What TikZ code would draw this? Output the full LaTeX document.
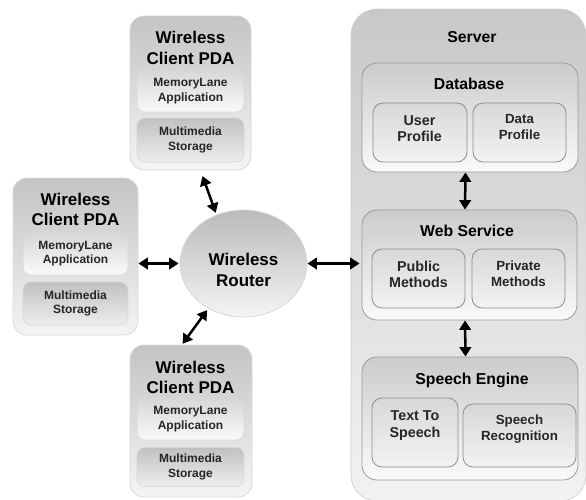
\documentclass[tikz,border=0pt]{standalone}
\usepackage{fontspec}
\setmainfont{Liberation Sans}
\usetikzlibrary{arrows.meta,shapes.geometric}
\definecolor{pdatop}{HTML}{C4C4C4}
\definecolor{pdabot}{HTML}{F4F4F4}
\definecolor{pdaline}{HTML}{D8D8D8}
\definecolor{intop}{HTML}{D6D6D6}
\definecolor{inbot}{HTML}{FAFAFA}
\definecolor{srvtop}{HTML}{C8C8C8}
\definecolor{srvbot}{HTML}{F2F2F2}
\definecolor{subline}{HTML}{9A9A9A}
\definecolor{leafline}{HTML}{8C8C8C}
\begin{document}
\begin{tikzpicture}[x=1pt,y=-1pt,
  pdabox/.style={draw=pdaline,line width=0.8pt,rounded corners=14pt,top color=pdatop,bottom color=pdabot,inner sep=0pt},
  pdain/.style={draw=pdaline,line width=0.6pt,rounded corners=8pt,top color=intop,bottom color=inbot,inner sep=0pt,minimum width=107pt},
  pdain2/.style={draw=pdaline,line width=0.6pt,rounded corners=8pt,top color=intop!90!black,bottom color=inbot!95!black,inner sep=0pt,minimum width=107pt},
  srvbox/.style={draw=srvtop!90!white,line width=0.6pt,rounded corners=26pt,top color=srvtop,bottom color=srvbot,inner sep=0pt},
  subbox/.style={draw=subline,line width=0.8pt,rounded corners=15pt,top color=intop!95!black,bottom color=inbot,inner sep=0pt},
  leafbox/.style={draw=leafline,line width=0.8pt,rounded corners=10pt,top color=intop!95!white,bottom color=inbot!97!black,inner sep=0pt},
  ttl/.style={font=\bfseries\fontsize{17}{20.5}\selectfont,align=center,inner sep=0pt},
  small/.style={font=\bfseries\fontsize{12}{14.5}\selectfont,align=center,inner sep=0pt,text=black!85},
  head/.style={font=\bfseries\fontsize{15.8}{18}\selectfont,inner sep=0pt,anchor=base},
  leaf/.style={font=\bfseries\fontsize{14.3}{16.5}\selectfont,align=center,inner sep=0pt,text=black!85},
  leafs/.style={font=\bfseries\fontsize{13.3}{15.5}\selectfont,align=center,inner sep=0pt,text=black!85},
  arr/.style={line width=2.5pt,{Triangle[length=9.5pt,width=11.5pt]}-{Triangle[length=9.5pt,width=11.5pt]}}
]
\useasboundingbox (0,0) rectangle (586,499);

% ---------- Top PDA
\node[pdabox,minimum width=121pt,minimum height=154pt] (tpda) at (190.5,93) {};
\node[ttl] (tpdat) at (190.5,48) {Wireless\\Client PDA};
\node[pdain,minimum height=42pt] (tpdaa) at (190.5,91) {};
\node[small] (tpdaat) at (190.5,91) {MemoryLane\\Application};
\node[pdain2,minimum height=44pt] (tpdam) at (190.5,140) {};
\node[small] (tpdamt) at (190.5,140) {Multimedia\\Storage};

% ---------- Left PDA
\node[pdabox,minimum width=125pt,minimum height=157pt] (lpda) at (75.5,256.5) {};
\node[ttl] (lpdat) at (75.5,209.5) {Wireless\\Client PDA};
\node[pdain,minimum width=105pt,minimum height=43pt] (lpdaa) at (75.5,253.5) {};
\node[small] (lpdaat) at (75.5,253.5) {MemoryLane\\Application};
\node[pdain2,minimum width=105pt,minimum height=43pt] (lpdam) at (75.5,303.5) {};
\node[small] (lpdamt) at (75.5,303.5) {Multimedia\\Storage};

% ---------- Bottom PDA
\node[pdabox,minimum width=122pt,minimum height=152pt] (bpda) at (191,421) {};
\node[ttl] (bpdat) at (190.5,377.5) {Wireless\\Client PDA};
\node[pdain,minimum height=42pt] (bpdaa) at (190.5,419) {};
\node[small] (bpdaat) at (190.5,419) {MemoryLane\\Application};
\node[pdain2,minimum height=39pt] (bpdam) at (190.5,467) {};
\node[small] (bpdamt) at (190.5,467) {Multimedia\\Storage};

% ---------- Router
\node[ellipse,draw=pdaline,line width=0.8pt,top color=pdatop!95!black,bottom color=pdabot,minimum width=127pt,minimum height=107pt,inner sep=0pt] (router) at (243.5,263.5) {};
\node[ttl] (routert) at (243.5,270) {Wireless\\Router};

% ---------- Server
\node[srvbox,minimum width=235pt,minimum height=492pt] (server) at (468.5,255) {};
\node[head] (servert) at (472,42.7) {Server};

\node[subbox,minimum width=216pt,minimum height=109pt] (db) at (470,117.5) {};
\node[head] (dbt) at (469,89.3) {Database};
\node[leafbox,minimum width=94pt,minimum height=59pt] (up) at (420,132.5) {};
\node[leaf] (upt) at (419.5,128.5) {User\\Profile};
\node[leafbox,minimum width=93pt,minimum height=59pt] (dp) at (519.5,132.5) {};
\node[leafs] (dpt) at (519.5,127) {Data\\Profile};

\node[subbox,minimum width=215pt,minimum height=110pt] (ws) at (469.5,265) {};
\node[head] (wst) at (467,236) {Web Service};
\node[leafbox,minimum width=93pt,minimum height=59pt] (pub) at (418.5,278.5) {};
\node[leaf] (pubt) at (418.5,274.5) {Public\\Methods};
\node[leafbox,minimum width=93pt,minimum height=59pt] (priv) at (518.5,278.5) {};
\node[leafs] (privt) at (518.5,273.5) {Private\\Methods};

\node[subbox,minimum width=216pt,minimum height=123pt] (se) at (470,418.5) {};
\node[head] (set) at (472,384.3) {Speech Engine};
\node[leafbox,minimum width=86pt,minimum height=69pt] (tts) at (415,432.5) {};
\node[leaf] (ttst) at (415,425.5) {Text To\\Speech};
\node[leafbox,minimum width=113pt,minimum height=63pt] (sr) at (519.5,435.5) {};
\node[leafs] (srt) at (519.5,429) {Speech\\Recognition};

% ---------- Connectors
\draw[arr,shorten <=6pt,shorten >=2pt] ([xshift=10pt]tpda.south) -- (router.119);
\draw[arr,shorten <=2pt,shorten >=1pt] (router.232) -- ([xshift=-9pt]bpda.north);
\draw[arr,shorten <=0pt,shorten >=1pt] (router.west -| lpda.east) -- (router.west);
\draw[arr,shorten <=0pt,shorten >=2pt] (router.east) -- (router.east -| ws.west);
\draw[arr] ([xshift=-4.5pt]db.south) -- ([xshift=-4.5pt]ws.north);
\draw[arr] ([xshift=-4.5pt]ws.south) -- ([xshift=-4.5pt]se.north);
\end{tikzpicture}
\end{document}
